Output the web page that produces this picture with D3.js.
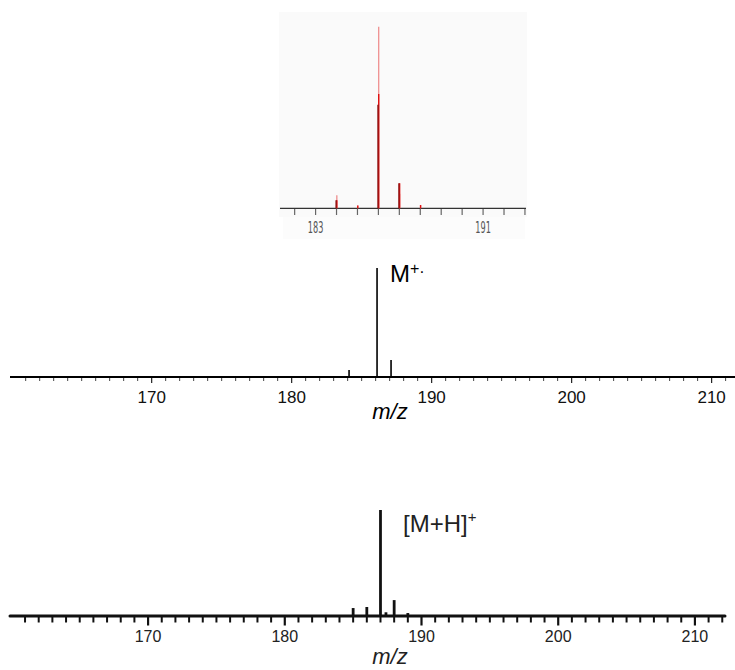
<!DOCTYPE html>
<html>
<head>
<meta charset="utf-8">
<script src="https://cdn.jsdelivr.net/npm/d3@7"></script>
<style>
  body { margin: 0; background: #fff; }
  text { font-family: Arial, "Liberation Sans", sans-serif; }
</style>
</head>
<body>
<div id="chart"></div>
<script>

// inset: isotope pattern (three overlaid traces)
var insetMz = [184, 185, 186, 187, 188];
var insetPale = [7.2, 1.5, 100, 8, 1.8];
var insetRed = [4.4, 1.5, 63, 13.8, 1.8];
var insetDark = [4.4, 0, 57, 13.8, 0];
var insetTickLabels = [183, 191];

// middle spectrum (M+.)
var midMz = [184.1, 186.1, 187.1];
var midIntensity = [6.4, 100, 15.6];
var midTickLabels = [170, 180, 190, 200, 210];

// bottom spectrum ([M+H]+)
var botMz = [185, 186, 187, 187.4, 188, 189];
var botIntensity = [7.5, 8.5, 100, 3.5, 15, 2.8];
var botTickLabels = [170, 180, 190, 200, 210];

var svgWidth = 735;
var svgHeight = 670;

var svg = d3.select("#chart")
  .append("svg")
    .attr("width", svgWidth)
    .attr("height", svgHeight);

// ---------- inset ----------
var insetX = d3.scaleLinear().domain([181.3, 193.05]).range([280, 526]);
var insetY = d3.scaleLinear().domain([0, 100]).range([208.3, 26.7]);

svg.append("rect")
  .attr("x", 279).attr("y", 12)
  .attr("width", 248).attr("height", 205)
  .style("fill", "#fafafa");
svg.append("rect")
  .attr("x", 283).attr("y", 217)
  .attr("width", 242).attr("height", 22)
  .style("fill", "#fcfcfc");

var insetTicks = d3.range(182, 194);
svg.selectAll(".itick")
  .data(insetTicks)
  .enter()
  .append("line")
    .attr("x1", function(d) { return insetX(d); })
    .attr("x2", function(d) { return insetX(d); })
    .attr("y1", 208.3)
    .attr("y2", 215)
    .style("stroke", "#666")
    .style("stroke-width", 1.2);

svg.append("line")
  .attr("x1", insetX.range()[0]).attr("x2", insetX.range()[1])
  .attr("y1", 208.3).attr("y2", 208.3)
  .style("stroke", "#333").style("stroke-width", 1.3);

svg.selectAll(".ilabel")
  .data(insetTickLabels)
  .enter()
  .append("text")
    .attr("transform", function(d) { return "translate(" + insetX(d) + ",233) scale(0.55,1)"; })
    .attr("text-anchor", "middle")
    .style("font-family", "'Liberation Sans Narrow', 'DejaVu Sans Condensed', sans-serif")
    .style("font-size", "16.5px")
    .style("fill", "#555")
    .text(function(d) { return d; });

function drawSticks(data, xs, ys, color, width, dx) {
  svg.append("g").selectAll("line")
    .data(data)
    .enter()
    .append("line")
      .attr("x1", function(d) { return xs(d[0]) + dx; })
      .attr("x2", function(d) { return xs(d[0]) + dx; })
      .attr("y1", ys(0))
      .attr("y2", function(d) { return ys(d[1]); })
      .style("stroke", color)
      .style("stroke-width", width);
}

drawSticks(d3.zip(insetMz, insetPale), insetX, insetY, "#ef8f8f", 1.3, 0.3);
drawSticks(d3.zip(insetMz, insetRed), insetX, insetY, "#e01010", 1.4, 0.3);
drawSticks(d3.zip(insetMz, insetDark), insetX, insetY, "#8c1010", 1.4, -0.4);

// ---------- middle spectrum ----------
var midX = d3.scaleLinear().domain([159.88, 211.67]).range([10, 735]);
var midY = d3.scaleLinear().domain([0, 100]).range([377, 268]);

var midMinor = d3.range(161, 212).filter(function(d) { return d % 10 !== 0; });
svg.append("g").selectAll("line")
  .data(midMinor)
  .enter()
  .append("line")
    .attr("x1", function(d) { return midX(d); })
    .attr("x2", function(d) { return midX(d); })
    .attr("y1", 377)
    .attr("y2", 381)
    .style("stroke", "#444")
    .style("stroke-width", 1);

svg.append("g").selectAll("line")
  .data(midTickLabels)
  .enter()
  .append("line")
    .attr("x1", function(d) { return midX(d); })
    .attr("x2", function(d) { return midX(d); })
    .attr("y1", 377)
    .attr("y2", 383)
    .style("stroke", "#222")
    .style("stroke-width", 1.2);

svg.append("line")
  .attr("x1", 10).attr("x2", 735)
  .attr("y1", 377).attr("y2", 377)
  .style("stroke", "#000").style("stroke-width", 1.8);

svg.append("g").selectAll("text")
  .data(midTickLabels)
  .enter()
  .append("text")
    .attr("x", function(d) { return midX(d); })
    .attr("y", 403)
    .attr("text-anchor", "middle")
    .style("font-size", "17px")
    .style("fill", "#111")
    .text(function(d) { return d; });

drawSticks(d3.zip(midMz, midIntensity), midX, midY, "#000", 1.6, 0);

svg.append("text")
  .attr("x", 390).attr("y", 419)
  .attr("text-anchor", "middle")
  .style("font-size", "22px")
  .style("font-style", "italic")
  .text("m/z");

var mLabel = svg.append("text")
  .attr("x", 390).attr("y", 282)
  .style("font-size", "24px");
mLabel.append("tspan").text("M");
mLabel.append("tspan")
  .attr("dy", -8)
  .style("font-size", "16px")
  .text("+");
mLabel.append("tspan")
  .attr("dy", 3)
  .style("font-size", "16px")
  .text("·");

// ---------- bottom spectrum ----------
var botX = d3.scaleLinear().domain([159.9, 212.2]).range([10, 725]);
var botY = d3.scaleLinear().domain([0, 100]).range([616, 510]);

var botMinor = d3.range(161, 213).filter(function(d) { return d % 10 !== 0; });
svg.append("g").selectAll("line")
  .data(botMinor)
  .enter()
  .append("line")
    .attr("x1", function(d) { return botX(d); })
    .attr("x2", function(d) { return botX(d); })
    .attr("y1", 616)
    .attr("y2", 622.5)
    .style("stroke", "#111")
    .style("stroke-width", 2);

svg.append("g").selectAll("line")
  .data(botTickLabels)
  .enter()
  .append("line")
    .attr("x1", function(d) { return botX(d); })
    .attr("x2", function(d) { return botX(d); })
    .attr("y1", 616)
    .attr("y2", 625.5)
    .style("stroke", "#111")
    .style("stroke-width", 2.2);

svg.append("line")
  .attr("x1", 10).attr("x2", 725)
  .attr("y1", 616).attr("y2", 616)
  .style("stroke", "#111").style("stroke-width", 3)
  .style("stroke-linecap", "round");

svg.append("g").selectAll("text")
  .data(botTickLabels)
  .enter()
  .append("text")
    .attr("x", function(d) { return botX(d); })
    .attr("y", 642)
    .attr("text-anchor", "middle")
    .style("font-size", "16px")
    .style("fill", "#222")
    .text(function(d) { return d; });

drawSticks(d3.zip(botMz, botIntensity), botX, botY, "#111", 2.8, 0);

svg.append("text")
  .attr("x", 390).attr("y", 664)
  .attr("text-anchor", "middle")
  .style("font-size", "22px")
  .style("font-style", "italic")
  .style("fill", "#222")
  .text("m/z");

var mhLabel = svg.append("text")
  .attr("x", 403).attr("y", 532)
  .style("font-size", "24px")
  .style("fill", "#222");
mhLabel.append("tspan").text("[M+H]");
mhLabel.append("tspan")
  .attr("dy", -10)
  .style("font-size", "15px")
  .text("+");

</script>
</body>
</html>
